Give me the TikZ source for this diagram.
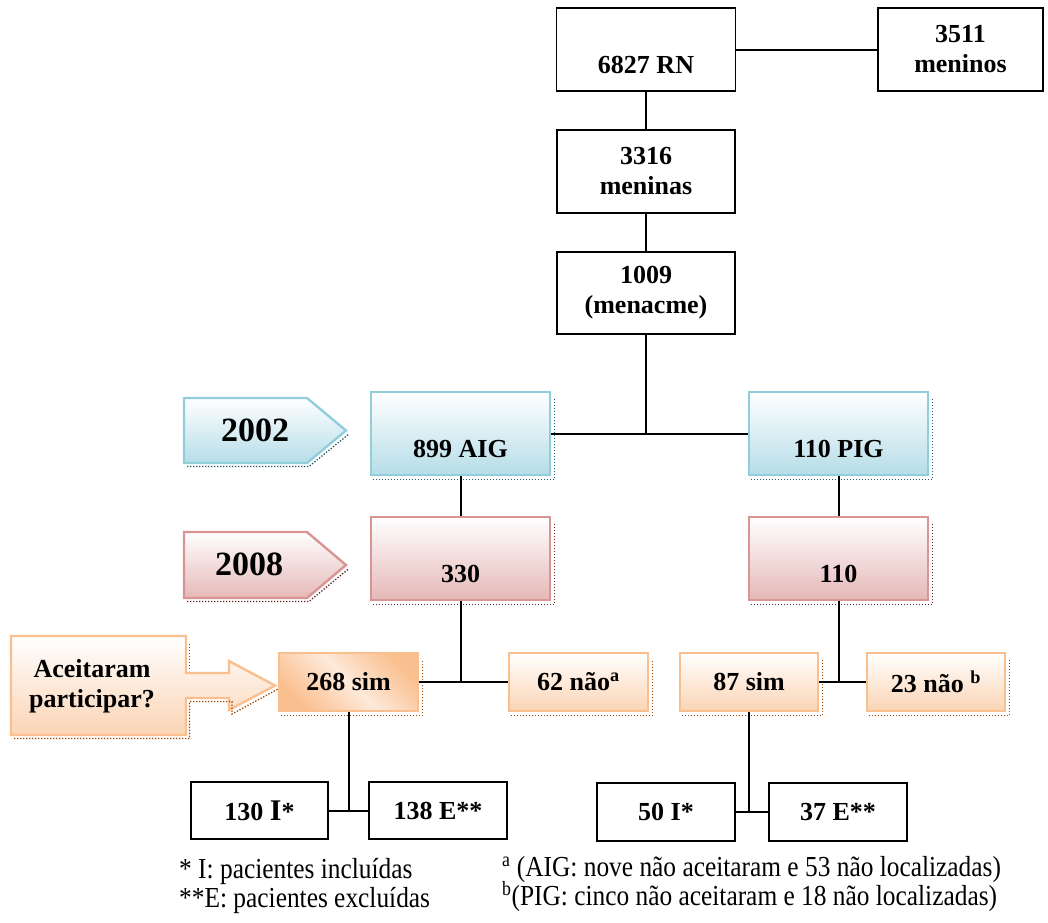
\documentclass[tikz,border=0pt]{standalone}
\usepackage{fontspec}
\setmainfont{Liberation Serif}
\newfontfamily\notefont[FakeStretch=0.875]{Liberation Serif}

\definecolor{aigline}{HTML}{92CDDC}
\definecolor{aigfill}{HTML}{B6DDE8}
\definecolor{aigdots}{HTML}{205867}
\definecolor{followline}{HTML}{D99594}
\definecolor{followfill}{HTML}{E5B8B7}
\definecolor{followdots}{HTML}{622423}
\definecolor{answerline}{HTML}{FABF8F}
\definecolor{answerfill}{HTML}{FBD4B4}
\definecolor{answerlight}{HTML}{FDE9D9}
\definecolor{answerdots}{HTML}{974706}

\newcommand{\lowtext}[1]{\vphantom{0}\\#1}

\tikzset{
    flowbox/.style={rectangle, inner sep=0pt, align=center,
        font=\fontsize{26}{30}\selectfont\bfseries},
    plainbox/.style={flowbox, draw, line width=1.8pt, fill=white},
    yearbox/.style={flowbox, draw=aigline, line width=2.4pt,
        top color=white, bottom color=aigfill},
    followbox/.style={flowbox, draw=followline, line width=2.4pt,
        top color=white, bottom color=followfill},
    answerbox/.style={flowbox, draw=answerline, line width=2.4pt,
        top color=white, bottom color=answerfill},
    boxshadow/.style={line width=1.3pt, dash pattern=on 1.3pt off 1.7pt},
    link/.style={line width=2pt},
    yeartext/.style={font=\fontsize{34}{34}\selectfont\bfseries},
    notetext/.style={anchor=base west, inner sep=0pt, text height=20pt, text depth=6pt,
        font=\notefont\fontsize{29}{29}\selectfont}
}

\begin{document}
\begin{tikzpicture}[x=1pt,y=-1pt]
        \useasboundingbox (0,0) rectangle (1048,922);
        % The newborns
        \node[plainbox, minimum width=179, minimum height=83] (rn) at (646,49.5) {\lowtext{6827 RN}};
        \node[plainbox, minimum width=165, minimum height=83] (boys) at (960.5,49.5) {3511\\meninos};
        \node[plainbox, minimum width=178, minimum height=83] (girls) at (646,171.5) {3316\\meninas};
        \node[plainbox, minimum width=178, minimum height=82] (menacme) at (646,293) {1009\\(menacme)};
        % 2002
        \node[yearbox, minimum width=179, minimum height=83] (aig) at (460.5,433.5) {\lowtext{899 AIG}};
        \node[yearbox, minimum width=179, minimum height=83] (pig) at (838.5,433.5) {\lowtext{110 PIG}};
        % 2008
        \node[followbox, minimum width=179, minimum height=83] (aigfollow) at (460.5,558.5) {\lowtext{330}};
        \node[followbox, minimum width=179, minimum height=83] (pigfollow) at (838.5,558.5) {\lowtext{110}};
        % The answers
        \node[answerbox, minimum width=139, minimum height=58, top color=answerline,
            bottom color=answerline, middle color=answerlight, shading angle=-45]
            (aigyes) at (348.5,682) {268 sim};
        \node[answerbox, minimum width=139, minimum height=58] (aigno) at (578.5,682) {62 não\textsuperscript{a}};
        \node[answerbox, minimum width=138, minimum height=58] (pigyes) at (749,682) {87 sim};
        \node[answerbox, minimum width=138, minimum height=58] (pigno) at (936,682) {23 não \textsuperscript{b}};
        % Included and excluded
        \node[plainbox, minimum width=137, minimum height=57] (aigin) at (259.5,810.5)
            {130 {\fontsize{30}{30}\selectfont I}*};
        \node[plainbox, minimum width=138, minimum height=57] (aigout) at (438,810.5) {138 E**};
        \node[plainbox, minimum width=138, minimum height=58] (pigin) at (666,812) {50 I*};
        \node[plainbox, minimum width=138, minimum height=58] (pigout) at (838,812) {37 E**};
        % The dotted shadows
        \foreach \n/\tone in {aig/aigdots, pig/aigdots, aigfollow/followdots, pigfollow/followdots,
            aigyes/answerdots, aigno/answerdots, pigyes/answerdots, pigno/answerdots}
            \draw[boxshadow, \tone] ([shift={(3,3.5)}]\n.south west) -- ([shift={(3,3.5)}]\n.south east)
                -- ([shift={(3,8)}]\n.north east);
        % The links
        \draw[link] (rn.east) -- (boys.west);
        \draw[link] (rn.south) -- (girls.north);
        \draw[link] (girls.south) -- (menacme.north);
        \draw[link] (menacme.south) -- (menacme.south |- aig.east);
        \draw[link] (aig.east) -- (pig.west);
        \draw[link] (aig.south) -- (aigfollow.north);
        \draw[link] (pig.south) -- (pigfollow.north);
        \draw[link] (aigfollow.south) -- (aigfollow.south |- aigyes.east);
        \draw[link] (aigyes.east) -- (aigno.west);
        \draw[link] (pigfollow.south) -- (pigfollow.south |- pigyes.east);
        \draw[link] (pigyes.east) -- (pigno.west);
        \draw[link] (aigyes.south) -- (aigyes.south |- aigin.east);
        \draw[link] (aigin.east) -- (aigout.west);
        \draw[link] (pigyes.south) -- (pigyes.south |- pigin.east);
        \draw[link] (pigin.east) -- (pigout.west);
        % The year arrows
        \shadedraw[draw=aigline, line width=2.4pt, top color=white, bottom color=aigfill]
            (184,398) -- (307,398) -- (346,430.5) -- (307,463) -- (184,463) -- cycle;
        \draw[boxshadow, aigdots] (187,466.5) -- (309,466.5) -- (349,434);
        \node[yeartext] (year2002) at (255,430) {2002};
        \shadedraw[draw=followline, line width=2.4pt, top color=white, bottom color=followfill]
            (184,532) -- (307,532) -- (346,565) -- (307,598) -- (184,598) -- cycle;
        \draw[boxshadow, followdots] (187,601.5) -- (309,601.5) -- (349,568.5);
        \node[yeartext] (year2008) at (249,564) {2008};
        % The question
        \shadedraw[draw=answerline, line width=2.4pt, top color=white, bottom color=answerfill]
            (11,636) -- (186,636) -- (186,673) -- (229,673) -- (229,661) -- (275,685.5)
            -- (229,710) -- (229,698) -- (186,698) -- (186,735) -- (11,735) -- cycle;
        \draw[boxshadow, answerdots] (189.5,644) -- (189.5,671);
        \draw[boxshadow, answerdots] (14,738.5) -- (189.5,738.5) -- (189.5,701.5) -- (232,701.5)
            -- (232,714) -- (278,689);
        \node[flowbox] (question) at (92,686) {Aceitaram\\participar?};
        % The notes
        \node[notetext] (noteI) at (179,878) {* I: pacientes incluídas};
        \node[notetext] (noteE) at (179,907) {**E: pacientes excluídas};
        \node[notetext] (notea) at (502,876) {\textsuperscript{a} (AIG: nove não aceitaram e 53 não localizadas)};
        \node[notetext] (noteb) at (502,905) {\textsuperscript{b}(PIG: cinco não aceitaram e 18 não localizadas)};
    \end{tikzpicture}
\end{document}
